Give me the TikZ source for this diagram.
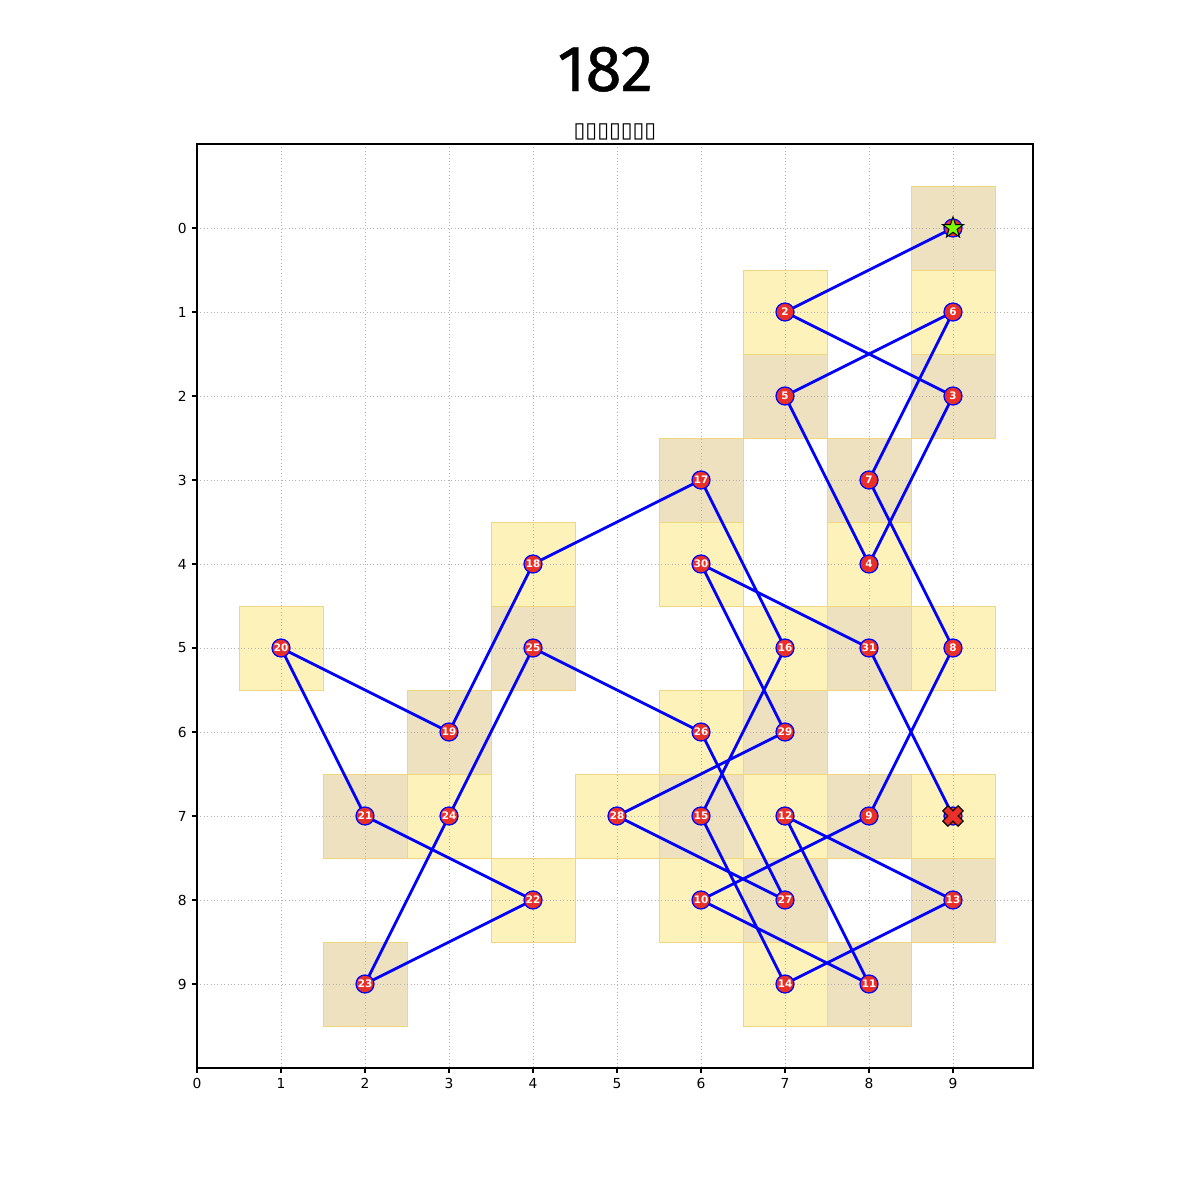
\documentclass[tikz,border=0pt]{standalone}
\usepackage{fontspec}
\setmainfont{DejaVu Sans}
\newfontfamily\titlefont[FakeBold=0.7]{Fira Sans}
\usetikzlibrary{positioning, shapes.geometric}

\definecolor{cellyellow}{RGB}{253,242,186}
\definecolor{celltan}{RGB}{237,225,192}
\definecolor{celledge}{RGB}{240,214,125}
\definecolor{dotred}{RGB}{232,48,40}
\definecolor{startgreen}{RGB}{124,252,0}

% percorso del cavallo (colonna/riga)
\def\tour{9/0,7/1,9/2,8/4,7/2,9/1,8/3,9/5,8/7,6/8,8/9,7/7,9/8,7/9,6/7,7/5,6/3,4/4,3/6,1/5,2/7,4/8,2/9,3/7,4/5,6/6,7/8,5/7,7/6,6/4,8/5,9/7}

\tikzset{
  cell/.style={draw=celledge, line width=0.6pt},
  gridline/.style={gray!60, dotted, line width=0.45pt},
  tourline/.style={blue, line width=2pt},
  visit/.style={circle, fill=dotred, draw=blue, line width=0.9pt, minimum size=13pt, inner sep=0pt,
    text=white, font=\bfseries\fontsize{7.5}{7.5}\selectfont},
  ticklabel/.style={font=\fontsize{10}{10}\selectfont, inner sep=0pt}
}

\begin{document}
\begin{tikzpicture}[x=0.84in, y=-0.84in]
  \useasboundingbox (-2.34524,-2.71429) rectangle (11.94048,11.57143);

  % Caselle visitate
  \foreach \x/\y in \tour {
    \pgfmathtruncatemacro\odd{mod(\x+\y,2)}
    \ifnum\odd=1
      \fill[celltan] (\x-0.5,\y-0.5) rectangle (\x+0.5,\y+0.5);
    \else
      \fill[cellyellow] (\x-0.5,\y-0.5) rectangle (\x+0.5,\y+0.5);
    \fi
  }
  \foreach \x/\y in \tour
    \draw[cell] (\x-0.5,\y-0.5) rectangle (\x+0.5,\y+0.5);

  % Griglia e assi
  \foreach \i in {0,...,9} {
    \draw[gridline] (\i,-1) -- (\i,10);
    \draw[gridline] (0,\i) -- (9.95238,\i);
    \draw[line width=0.8pt] (\i,10) -- ++(0,-3.5pt) node[ticklabel, anchor=north, yshift=-3.5pt] (xt\i) {\i};
    \draw[line width=0.8pt] (0,\i) -- ++(-3.5pt,0) node[ticklabel, anchor=east, xshift=-3.5pt] (yt\i) {\i};
  }
  \draw[line width=0.8pt] (0,-1) rectangle (9.95238,10);

  % Titoli
  \node[anchor=base, font=\titlefont\fontsize{47}{47}\selectfont] (title) at (4.86,-1.631) {182};
  \node[anchor=base, font=\fontsize{15.5}{15.5}\selectfont] (subtitle) at (4.976,-1.083) {▯▯▯▯▯▯▯};

  % Percorso
  \foreach \x/\y [count=\k] in \tour
    \coordinate (c\k) at (\x,\y);
  \draw[tourline] (c1) \foreach \k in {2,...,32} { -- (c\k) };

  % Tappe
  \node[visit] (n1) at (c1) {};
  \foreach \k in {2,...,31}
    \node[visit] (n\k) at (c\k) {\k};
  \node[visit] (n32) at (c32) {};

  % Partenza e arrivo
  \node[star, star points=5, star point ratio=2.6, minimum size=16pt, inner sep=0pt,
    fill=startgreen, draw=black, line width=0.7pt] (start) at (c1) {};
  \begin{scope}[shift={(c32)}, rotate=45]
    \filldraw[fill=dotred, draw=black, line width=0.8pt]
      (2.6pt,7.8pt) -- (-2.6pt,7.8pt) -- (-2.6pt,2.6pt) -- (-7.8pt,2.6pt) -- (-7.8pt,-2.6pt) -- (-2.6pt,-2.6pt)
      -- (-2.6pt,-7.8pt) -- (2.6pt,-7.8pt) -- (2.6pt,-2.6pt) -- (7.8pt,-2.6pt) -- (7.8pt,2.6pt) -- (2.6pt,2.6pt) -- cycle;
  \end{scope}
\end{tikzpicture}
\end{document}
